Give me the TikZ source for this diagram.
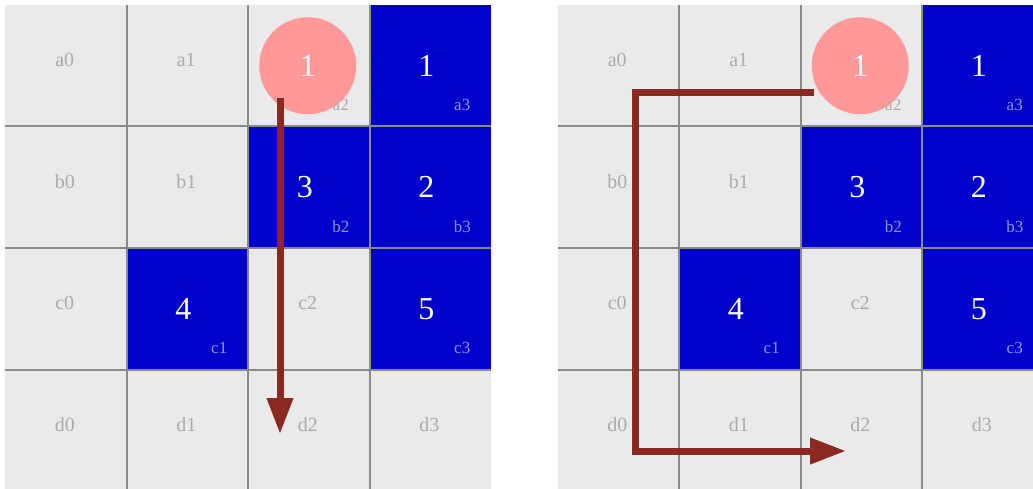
\documentclass[tikz,border=0pt]{standalone}
\usepackage{fontspec}
\setmainfont{Liberation Serif}
\usetikzlibrary{
  positioning,
  arrows.meta,
  calc
}
\definecolor{cellbg}{HTML}{EAEAEA}
\definecolor{gridline}{HTML}{8A8A8A}
\definecolor{taken}{HTML}{0000CC}
\definecolor{queen}{HTML}{FF9898}
\definecolor{route}{HTML}{8B2820}
\definecolor{namegray}{HTML}{ABABAB}
\definecolor{nameblue}{HTML}{9494D4}

\begin{document}
\begin{tikzpicture}[
  x=1pt, y=-1pt,
  cell/.style={minimum size=121.5pt, inner sep=0pt, outer sep=0pt, fill=cellbg},
  hit/.style={cell, fill=taken},
  cellname/.style={font=\fontsize{20}{20}\selectfont, text=namegray},
  celltag/.style={font=\fontsize{17}{17}\selectfont, text=namegray},
  num/.style={font=\fontsize{32}{32}\selectfont, text=white},
  token/.style={circle, fill=queen, minimum size=97pt, inner sep=0pt},
  sep/.style={line width=2pt, gridline},
  arr/.style={-{Triangle[length=36pt, width=25pt]}, line width=7pt, route}
]
  \clip (0,0) rectangle (1033,489);

  % Cells
  \foreach \g/\xo in {L/5, R/557.5} {
    \foreach \r [count=\i from 0] in {a,b,c,d} {
      \foreach \c in {0,...,3} {
        \node[cell] (\g-\r\c) at ({\xo+60.75+121.5*\c}, {65.75+121.5*\i}) {};
      }
    }
  }

  % Blue cells
  \foreach \g in {L,R} {
    \foreach \n/\v in {a3/1, b3/2, b2/3, c1/4, c3/5} {
      \node[hit] (\g-\n-hit) at (\g-\n) {};
      \node[num] (\g-\n-num) at ($(\g-\n)+(-4,0)$) {\v};
    }
  }

  % Grid lines
  \foreach \g in {L,R} {
    \foreach \c in {1,2,3} {
      \draw[sep] (\g-a\c.north west) -- (\g-d\c.south west);
    }
    \foreach \r in {b,c,d} {
      \draw[sep] (\g-\r0.north west) -- (\g-\r3.north east);
    }
  }

  % Names
  \foreach \g in {L,R} {
    \foreach \n in {a0,a1,b0,b1,c0,c2,d0,d1,d2,d3} {
      \node[cellname] (\g-\n-name) at ($(\g-\n)+(-1,-6)$) {\n};
    }
    \node[token, num] (\g-queen) at ($(\g-a2)+(-1,0)$) {1};
    \node[celltag] (\g-a2-tag) at ($(\g-a2)+(32,39)$) {a2};
    \foreach \n in {a3,b3,b2,c1,c3} {
      \node[celltag, text=nameblue] (\g-\n-tag) at ($(\g-\n)+(32,39)$) {\n};
    }
  }

  % Moves
  \coordinate (L-start) at (280, 98);
  \coordinate (L-end) at (280, 434);
  \draw[arr] (L-start) -- (L-end);

  \coordinate (R-start) at (814, 93);
  \coordinate (R-turn1) at (635, 93);
  \coordinate (R-turn2) at (635, 451);
  \coordinate (R-end) at (846, 451);
  \draw[arr] (R-start) -- (R-turn1) -- (R-turn2) -- (R-end);
\end{tikzpicture}
\end{document}
